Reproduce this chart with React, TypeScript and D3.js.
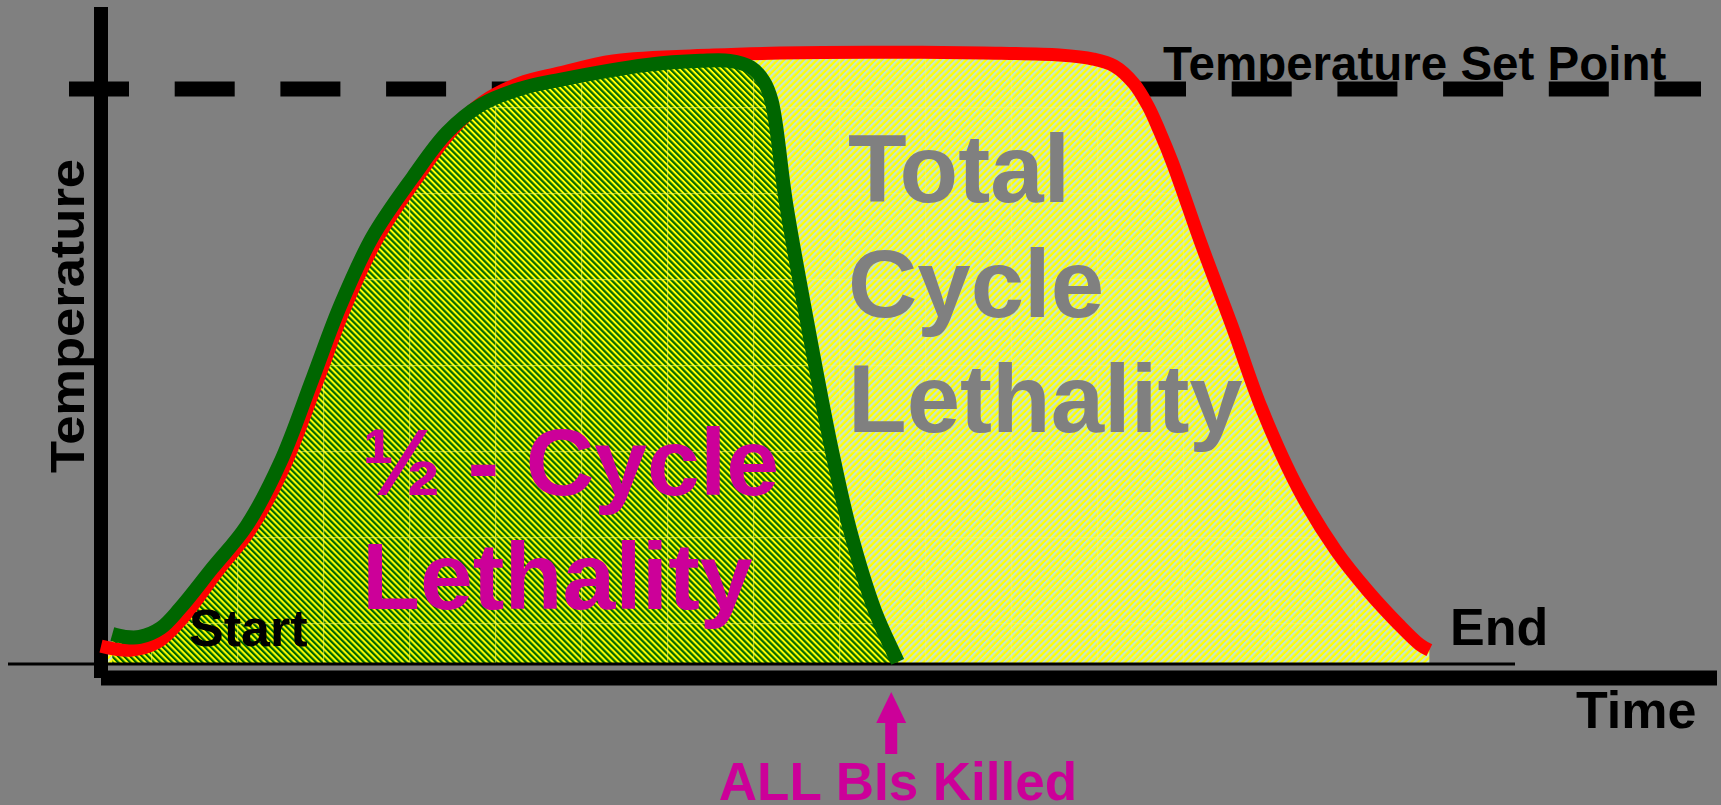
import React from 'react';
import * as d3 from 'd3';

const W = 1721;
const H = 805;

// Total cycle (red) temperature profile: time (0-100) vs temperature (% of set point)
const totalTime = [0, 1.8, 3.5, 5.0, 7.2, 9.3, 11.4, 13.4, 15.1, 17.1, 19.6, 21.7, 23.6, 25.9, 28.4, 31.7, 37.9, 42.0, 47.5, 54.6, 59.3, 61.4, 62.7, 63.9, 64.8, 65.5, 66.3, 68.1, 70.0, 71.8, 74.1, 76.4, 78.4, 80.3, 81.6, 82.2];
const totalTemp = [3.1, 2.4, 3.8, 7.8, 16.1, 23.6, 34.7, 49.3, 62.0, 74.0, 84.7, 92.7, 97.7, 101.0, 102.8, 104.9, 105.9, 106.25, 106.4, 106.25, 105.9, 105.2, 104.0, 101.0, 97.0, 92.7, 87.2, 72.9, 58.7, 44.6, 30.4, 19.8, 12.7, 6.9, 3.4, 2.4];

// Half cycle (green) temperature profile
const halfTime = [0.7, 1.5, 2.4, 3.7, 4.9, 6.9, 9.0, 11.1, 13.1, 14.8, 16.8, 19.3, 21.4, 23.5, 25.9, 28.4, 33.8, 37.1, 38.9, 40.2, 41.0, 41.5, 42.4, 43.75, 45.2, 46.35, 47.9, 49.1, 49.3];
const halfTemp = [5.2, 4.7, 4.7, 6.25, 9.7, 16.7, 24.0, 35.1, 49.7, 62.3, 74.3, 84.7, 92.4, 97.2, 100.0, 101.6, 104.2, 104.9, 104.9, 103.8, 101.4, 97.9, 80.0, 58.7, 37.5, 23.3, 9.2, 1.6, 0.35];

const setPoint = 100;
const killTime = 48.9;

const labels = {
  yAxis: 'Temperature',
  xAxis: 'Time',
  setPoint: 'Temperature Set Point',
  start: 'Start',
  end: 'End',
  half: ['½ - Cycle', 'Lethality'],
  total: ['Total', 'Cycle', 'Lethality'],
  killed: 'ALL BIs Killed',
};

const FONT = '"Liberation Sans", Arial, Helvetica, sans-serif';
const MAGENTA = '#CC0099';

export default function App() {
  const x = d3.scaleLinear().domain([0, 100]).range([101, 1717]);
  const y = d3.scaleLinear().domain([0, 100]).range([664, 89]);

  const totalPts: [number, number][] = totalTime.map((t, i) => [t, totalTemp[i]]);
  const halfPts: [number, number][] = halfTime.map((t, i) => [t, halfTemp[i]]);

  const curve = d3.curveCatmullRom.alpha(0.5);
  const line = d3
    .line<[number, number]>()
    .x((d) => x(d[0]))
    .y((d) => y(d[1]))
    .curve(curve);
  const area = d3
    .area<[number, number]>()
    .x((d) => x(d[0]))
    .y0(y(0))
    .y1((d) => y(d[1]))
    .curve(curve);

  const totalLine = line(totalPts) || '';
  const halfLine = line(halfPts) || '';
  const totalArea = area(totalPts) || '';
  const halfArea = area(halfPts) || '';

  const axisY = y(0) + 14; // 678
  const kx = x(killTime);

  return (
    <div style={{ position: 'absolute', left: 0, top: 0, width: W, height: H }}>
      <svg width={W} height={H} viewBox={`0 0 ${W} ${H}`} style={{ display: 'block' }}>
        <defs>
          <pattern id="halfPat" width={4.24} height={4.24} patternUnits="userSpaceOnUse" patternTransform="rotate(-45)">
            <rect x={0} y={0} width={4.24} height={4.24} fill="#FFFF00" />
            <rect x={0} y={0} width={2.2} height={4.24} fill="#006600" />
          </pattern>
          <pattern id="totalPat" width={4.6} height={4.6} patternUnits="userSpaceOnUse" patternTransform="rotate(45)">
            <rect x={0} y={0} width={4.6} height={4.6} fill="#FFFF00" />
            <rect x={0} y={0} width={2.3} height={4.6} fill="#C8E6C8" />
          </pattern>
          <pattern id="seam" width={86} height={86} x={323} y={365} patternUnits="userSpaceOnUse">
            <rect x={0} y={0} width={1.2} height={86} fill="#FFFF66" />
            <rect x={0} y={0} width={86} height={1.2} fill="#FFFF66" />
          </pattern>
        </defs>

        <rect x={0} y={0} width={W} height={H} fill="#808080" />

        {/* set point dashed line */}
        <line
          x1={69}
          x2={1701}
          y1={y(setPoint)}
          y2={y(setPoint)}
          stroke="#000"
          strokeWidth={15}
          strokeDasharray="60 45.7"
        />

        {/* fills */}
        <path d={totalArea} fill="url(#totalPat)" />
        <path d={totalArea} fill="url(#seam)" opacity={0.35} />
        <path d={halfArea} fill="url(#halfPat)" />
        <path d={halfArea} fill="url(#seam)" opacity={0.55} />

        {/* thin baseline */}
        <line x1={8} x2={1515} y1={y(0)} y2={y(0)} stroke="#000" strokeWidth={3} />

        {/* axes */}
        <line x1={x(0)} x2={x(0)} y1={7} y2={axisY} stroke="#000" strokeWidth={14} />
        <line x1={x(0)} x2={x(100)} y1={axisY} y2={axisY} stroke="#000" strokeWidth={15} />

        {/* curves */}
        <path d={totalLine} fill="none" stroke="#FF0000" strokeWidth={13} strokeLinejoin="round" />
        <path d={halfLine} fill="none" stroke="#006600" strokeWidth={14} strokeLinejoin="round" />

        {/* texts */}
        <g fontFamily={FONT} fontWeight="bold">
          <text x={1163} y={80} fontSize={47.5} fill="#000">
            {labels.setPoint}
          </text>
          <text
            transform={`translate(84,316) rotate(-90)`}
            textAnchor="middle"
            fontSize={48}
            textLength={314}
            lengthAdjust="spacingAndGlyphs"
            fill="#000"
          >
            {labels.yAxis}
          </text>
          <text x={1576} y={728} fontSize={52} fill="#000">
            {labels.xAxis}
          </text>
          <text x={189} y={646} fontSize={52} fill="#000">
            {labels.start}
          </text>
          <text x={1450} y={645} fontSize={52} fill="#000">
            {labels.end}
          </text>
          {labels.total.map((s, i) => (
            <text key={s + i} x={848} y={202 + i * 115} fontSize={96} fill="#808080">
              {s}
            </text>
          ))}
          {labels.half.map((s, i) => (
            <text key={s + i} x={362} y={495 + i * 114} fontSize={95} fill={MAGENTA}>
              {s}
            </text>
          ))}
          <text x={898} y={800} textAnchor="middle" fontSize={53} fill={MAGENTA}>
            {labels.killed}
          </text>
        </g>

        {/* arrow */}
        <rect x={kx - 6} y={720} width={12} height={34} fill={MAGENTA} />
        <path d={`M${kx},692 L${kx + 15},723 L${kx - 15},723 Z`} fill={MAGENTA} />
      </svg>
    </div>
  );
}
